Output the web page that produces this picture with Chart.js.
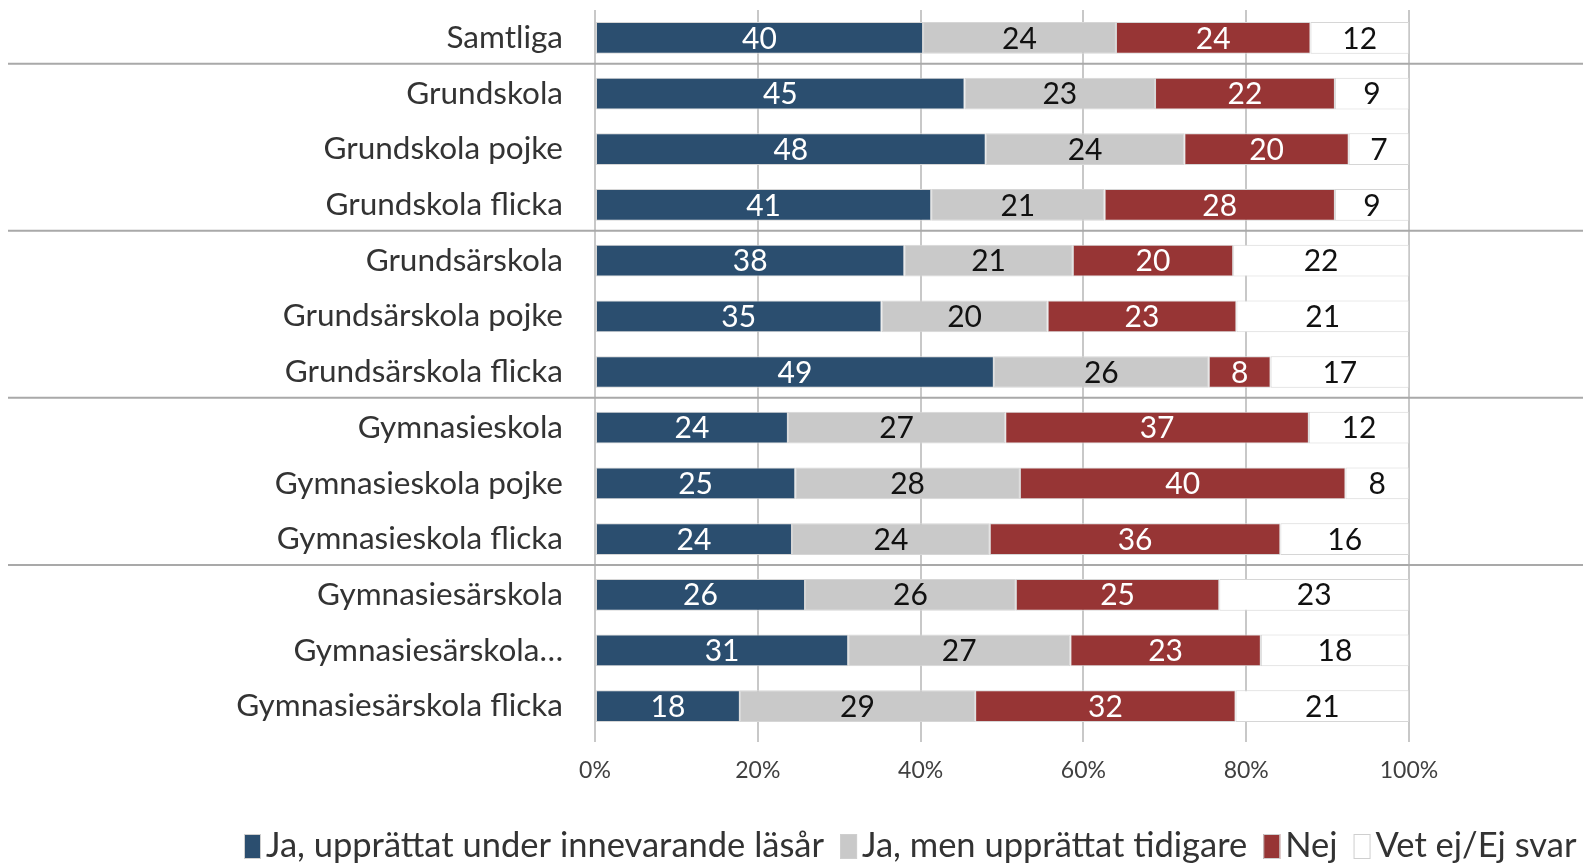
<!DOCTYPE html>
<html>
<head>
<meta charset="utf-8">
<script src="https://cdn.jsdelivr.net/npm/chart.js@4.4.1/dist/chart.umd.min.js"></script>
<style>
  html, body { margin: 0; padding: 0; background: #fff; overflow: hidden; }
</style>
</head>
<body>
<canvas id="chart" width="1583" height="867"></canvas>
<script>
const categories = [
  'Samtliga',
  'Grundskola', 'Grundskola pojke', 'Grundskola flicka',
  'Grundsärskola', 'Grundsärskola pojke', 'Grundsärskola flicka',
  'Gymnasieskola', 'Gymnasieskola pojke', 'Gymnasieskola flicka',
  'Gymnasiesärskola', 'Gymnasiesärskola…', 'Gymnasiesärskola flicka'
];

const seriesNames = [
  'Ja, upprättat under innevarande läsår',
  'Ja, men upprättat tidigare',
  'Nej',
  'Vet ej/Ej svar'
];

// percent per category (labels shown rounded)
const jaNu      = [40.3, 45.4, 48.0, 41.3, 38.0, 35.2, 49.0, 23.7, 24.6, 24.2, 25.8, 31.1, 17.8];
const jaTidigt  = [23.7, 23.4, 24.4, 21.3, 20.7, 20.4, 26.4, 26.7, 27.6, 24.3, 25.9, 27.3, 28.9];
const nej       = [23.9, 22.1, 20.2, 28.3, 19.7, 23.2,  7.6, 37.3, 40.0, 35.7, 25.0, 23.4, 32.0];
const vetEj     = [12.1,  9.1,  7.4,  9.1, 21.6, 21.2, 17.0, 12.3,  7.8, 15.8, 23.3, 18.2, 21.3];

const xTicks = [0, 20, 40, 60, 80, 100];

// groups end after these category indexes
const groupEnds = [0, 3, 6, 9];

const colors = ['#2b4e6f', '#c9c9c9', '#973535', '#ffffff'];
const labelColors = ['#ffffff', '#111111', '#ffffff', '#111111'];
const FONT = 'Lato, "Open Sans", sans-serif';

const separators = {
  id: 'separators',
  beforeDatasetsDraw(chart) {
    const ctx = chart.ctx;
    const y = chart.scales.y;
    ctx.save();
    ctx.strokeStyle = '#a9a9a9';
    ctx.lineWidth = 2;
    groupEnds.forEach(i => {
      const py = (y.getPixelForValue(i) + y.getPixelForValue(i + 1)) / 2 - 2;
      ctx.beginPath();
      ctx.moveTo(8, py);
      ctx.lineTo(chart.width, py);
      ctx.stroke();
    });
    ctx.restore();
  }
};

const valueLabels = {
  id: 'valueLabels',
  afterDatasetsDraw(chart) {
    const ctx = chart.ctx;
    ctx.save();
    ctx.font = '30px ' + FONT;
    ctx.textAlign = 'center';
    ctx.textBaseline = 'middle';
    chart.data.datasets.forEach((ds, di) => {
      const meta = chart.getDatasetMeta(di);
      meta.data.forEach((bar, i) => {
        const p = bar.getProps(['x', 'y', 'base'], true);
        ctx.fillStyle = labelColors[di];
        ctx.fillText(Math.round(ds.data[i]), (p.x + p.base) / 2, p.y + 1);
      });
    });
    ctx.restore();
  }
};

const bottomLegend = {
  id: 'bottomLegend',
  afterDraw(chart) {
    const ctx = chart.ctx;
    ctx.save();
    ctx.font = '34.5px ' + FONT;
    ctx.textBaseline = 'middle';
    let x = 244;
    const yMid = 846;
    chart.data.datasets.forEach((ds, di) => {
      ctx.fillStyle = colors[di];
      ctx.fillRect(x, yMid - 12, 17, 25);
      ctx.strokeStyle = '#cfcfcf';
      ctx.lineWidth = 1;
      ctx.strokeRect(x + 0.5, yMid - 11.5, 16, 24);
      x += 22;
      ctx.fillStyle = '#333333';
      ctx.fillText(ds.label, x, yMid);
      x += ctx.measureText(ds.label).width + 16;
    });
    ctx.restore();
  }
};

const seriesData = [jaNu, jaTidigt, nej, vetEj];

new Chart(document.getElementById('chart').getContext('2d'), {
  type: 'bar',
  data: {
    labels: categories,
    datasets: seriesNames.map((name, i) => ({
      label: name,
      data: seriesData[i],
      backgroundColor: colors[i],
      borderColor: '#d6d6d6',
      borderWidth: 1,
      borderSkipped: false,
      categoryPercentage: 1,
      barPercentage: 0.57
    }))
  },
  options: {
    indexAxis: 'y',
    responsive: false,
    animation: false,
    layout: { padding: { top: 10, left: 0, right: 174, bottom: 82 } },
    plugins: {
      legend: { display: false },
      tooltip: { enabled: false }
    },
    scales: {
      x: {
        stacked: true,
        min: 0,
        max: 100,
        afterBuildTicks: scale => { scale.ticks = xTicks.map(v => ({ value: v })); },
        afterFit: scale => { scale.height = 51; },
        ticks: {
          color: '#404040',
          font: { family: FONT, size: 23 },
          padding: 15,
          maxRotation: 0,
          callback: v => v + '%'
        },
        grid: { color: '#c8c8c8', lineWidth: 2, tickLength: 8 },
        border: { display: false }
      },
      y: {
        stacked: true,
        afterFit: scale => {
          scale.width = 595;
          scale.paddingTop = 0;
          scale.paddingBottom = 0;
        },
        ticks: {
          color: '#333333',
          font: { family: FONT, size: 31.5 },
          padding: 32
        },
        grid: { display: false, drawTicks: false },
        border: { display: false }
      }
    }
  },
  plugins: [separators, valueLabels, bottomLegend]
});
</script>
</body>
</html>
